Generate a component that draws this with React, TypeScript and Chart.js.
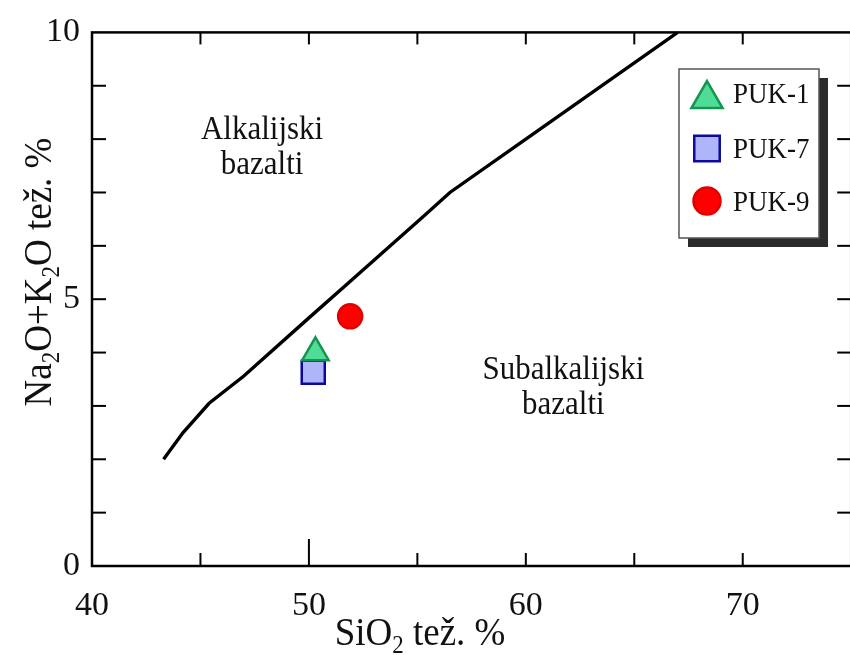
import React, { useEffect, useRef } from "react";
import { Chart, registerables } from "chart.js";

Chart.register(...registerables);

// Boundary line (alkaline / subalkaline)
const boundarySiO2 = [43.3, 44.2, 45.4, 47, 50, 52, 54, 55.3, 56.5, 60, 67];
const boundaryAlk = [2.0, 2.5, 3.05, 3.56, 4.65, 5.37, 6.09, 6.56, 7.0, 8.0, 10.0];

// Samples
const sampleNames = ["PUK-1", "PUK-7", "PUK-9"];
const sampleSiO2 = [50.3, 50.2, 51.9];
const sampleAlk = [4.0, 3.63, 4.68];

// Tick labels
const xTickLabels = [40, 50, 60, 70];
const yTickLabels = [0, 5, 10];
const xMinorTicks = [45, 50, 55, 60, 65, 70];
const yMinorTicks = [1, 2, 3, 4, 5, 6, 7, 8, 9];

// Field labels
const fieldLabelLines = [
  ["Alkalijski", "bazalti"],
  ["Subalkalijski", "bazalti"],
];
const fieldLabelSiO2 = [47.84, 61.73];
const fieldLabelAlk = [8.0, 3.51];

const SERIF = '"Liberation Serif", "Times New Roman", serif';
const VSTRETCH = 1.1;

const sampleStyles = [
  { pointStyle: "triangle", bg: "rgb(80,220,150)", border: "rgb(20,150,80)", r: 15.3, lr: 18 },
  { pointStyle: "rect", bg: "rgb(176,180,248)", border: "rgb(10,10,160)", r: 16.3, lr: 18 },
  { pointStyle: "circle", bg: "rgb(255,0,0)", border: "rgb(225,0,0)", r: 12, lr: 13.5 },
];

function fillStretched(ctx: CanvasRenderingContext2D, t: string, x: number, y: number) {
  ctx.save();
  ctx.translate(x, y);
  ctx.scale(1, VSTRETCH);
  ctx.fillText(t, 0, 0);
  ctx.restore();
}

function drawRich(
  ctx: CanvasRenderingContext2D,
  parts: [string, boolean][],
  cx: number,
  baseY: number,
  size: number
) {
  const subSize = size * 0.62;
  let total = 0;
  const widths: number[] = [];
  for (const [t, sub] of parts) {
    ctx.font = `${sub ? subSize : size}px ${SERIF}`;
    const w = ctx.measureText(t).width;
    widths.push(w);
    total += w;
  }
  let x = cx - total / 2;
  ctx.textAlign = "left";
  ctx.textBaseline = "alphabetic";
  parts.forEach(([t, sub], i) => {
    ctx.font = `${sub ? subSize : size}px ${SERIF}`;
    fillStretched(ctx, t, x, baseY + (sub ? size * 0.22 : 0));
    x += widths[i];
  });
}

function drawMarker(ctx: CanvasRenderingContext2D, style: string, x: number, y: number, r: number) {
  ctx.beginPath();
  if (style === "triangle") {
    let rad = 0;
    ctx.moveTo(x + Math.sin(rad) * r, y - Math.cos(rad) * r);
    rad += (2 * Math.PI) / 3;
    ctx.lineTo(x + Math.sin(rad) * r, y - Math.cos(rad) * r);
    rad += (2 * Math.PI) / 3;
    ctx.lineTo(x + Math.sin(rad) * r, y - Math.cos(rad) * r);
    ctx.closePath();
  } else if (style === "rect") {
    const s = Math.SQRT1_2 * r;
    ctx.rect(x - s, y - s, 2 * s, 2 * s);
  } else {
    ctx.arc(x, y, r, 0, Math.PI * 2);
  }
  ctx.fill();
  ctx.stroke();
}

const decorPlugin = {
  id: "decor",
  afterDatasetsDraw(chart: any) {
    const { ctx, chartArea: a, scales } = chart;
    const xs = scales.x;
    const ys = scales.y;
    ctx.save();
    ctx.strokeStyle = "#000";
    const line = (x1: number, y1: number, x2: number, y2: number) => {
      ctx.beginPath();
      ctx.moveTo(x1, y1);
      ctx.lineTo(x2, y2);
      ctx.stroke();
    };
    // frame
    ctx.lineWidth = 2.5;
    ctx.strokeRect(a.left, a.top, a.right - a.left, a.bottom - a.top);
    // minor ticks
    ctx.lineWidth = 2;
    for (const v of yMinorTicks) {
      const py = ys.getPixelForValue(v);
      line(a.left, py, a.left + 14, py);
      line(a.right, py, a.right - 14, py);
    }
    for (const v of xMinorTicks) {
      const px = xs.getPixelForValue(v);
      const len = v === 50 ? 27 : 13;
      line(px, a.bottom, px, a.bottom - len);
      line(px, a.top, px, a.top + 12);
    }

    // field labels
    ctx.fillStyle = "#111";
    ctx.font = `31px ${SERIF}`;
    ctx.textAlign = "center";
    ctx.textBaseline = "alphabetic";
    fieldLabelLines.forEach((lines, i) => {
      const px = xs.getPixelForValue(fieldLabelSiO2[i]);
      const py = ys.getPixelForValue(fieldLabelAlk[i]);
      lines.forEach((t, j) => fillStretched(ctx, t, px, py + j * 35));
    });

    // axis titles
    ctx.fillStyle = "#111";
    drawRich(ctx, [["SiO", false], ["2", true], [" tež. %", false]], 420, 645, 37);
    ctx.save();
    ctx.translate(51, 272);
    ctx.rotate(-Math.PI / 2);
    drawRich(
      ctx,
      [["Na", false], ["2", true], ["O+K", false], ["2", true], ["O tež. %", false]],
      0,
      0,
      37
    );
    ctx.restore();

    // legend
    const lx = 679, ly = 69, lw = 140, lh = 169;
    ctx.fillStyle = "#2b2b2b";
    ctx.fillRect(lx + 9, ly + 9, lw, lh);
    ctx.fillStyle = "#fff";
    ctx.fillRect(lx, ly, lw, lh);
    ctx.strokeStyle = "#555";
    ctx.lineWidth = 1.5;
    ctx.strokeRect(lx, ly, lw, lh);
    const markerY = [99, 148.5, 201];
    const textBase = [103, 158, 211];
    sampleNames.forEach((name, i) => {
      const s = sampleStyles[i];
      ctx.fillStyle = s.bg;
      ctx.strokeStyle = s.border;
      ctx.lineWidth = 2.5;
      drawMarker(ctx, s.pointStyle, 707, markerY[i], s.lr);
      ctx.fillStyle = "#111";
      ctx.font = `27px ${SERIF}`;
      ctx.textAlign = "left";
      ctx.textBaseline = "alphabetic";
      fillStretched(ctx, name, 733, textBase[i]);
    });
    ctx.restore();
  },
};

export default function App() {
  const ref = useRef<HTMLCanvasElement | null>(null);

  useEffect(() => {
    if (!ref.current) return;
    const sampleDatasets = sampleNames.map((name, i) => ({
      type: "scatter" as const,
      label: name,
      data: [{ x: sampleSiO2[i], y: sampleAlk[i] }],
      pointStyle: sampleStyles[i].pointStyle,
      pointRadius: sampleStyles[i].r,
      backgroundColor: sampleStyles[i].bg,
      borderColor: sampleStyles[i].border,
      borderWidth: 2.5,
    }));
    const chart = new Chart(ref.current, {
      type: "scatter",
      data: {
        datasets: [
          ...sampleDatasets,
          {
            type: "line" as const,
            label: "granica",
            data: boundarySiO2.map((x, i) => ({ x, y: boundaryAlk[i] })),
            borderColor: "#000",
            borderWidth: 3.4,
            pointRadius: 0,
            fill: false,
            tension: 0,
            showLine: true,
          },
        ] as any,
      },
      options: {
        responsive: false,
        animation: false,
        events: [],
        layout: { padding: { left: 0, top: 27, right: 10, bottom: 0 } },
        plugins: {
          legend: { display: false },
          tooltip: { enabled: false },
        },
        scales: {
          x: {
            type: "linear",
            min: 40,
            max: 75,
            grid: { display: false, drawTicks: false },
            border: { display: false },
            afterBuildTicks: (s: any) => {
              s.ticks = xTickLabels.map((v) => ({ value: v }));
            },
            afterFit: (s: any) => {
              s.height = 89;
            },
            ticks: {
              padding: 20,
              color: "#111",
              font: { family: SERIF, size: 34 },
              maxRotation: 0,
            },
          },
          y: {
            type: "linear",
            min: 0,
            max: 10,
            grid: { display: false, drawTicks: false },
            border: { display: false },
            afterBuildTicks: (s: any) => {
              s.ticks = yTickLabels.map((v) => ({ value: v }));
            },
            afterFit: (s: any) => {
              s.width = 92;
            },
            ticks: {
              padding: 12,
              color: "#111",
              font: { family: SERIF, size: 34 },
            },
          },
        },
      },
      plugins: [decorPlugin],
    });
    return () => chart.destroy();
  }, []);

  return (
    <div
      style={{
        position: "fixed",
        left: 0,
        top: 0,
        width: 850,
        height: 655,
        overflow: "hidden",
        background: "#fff",
      }}
    >
      <canvas ref={ref} width={870} height={655} style={{ display: "block" }} />
    </div>
  );
}
